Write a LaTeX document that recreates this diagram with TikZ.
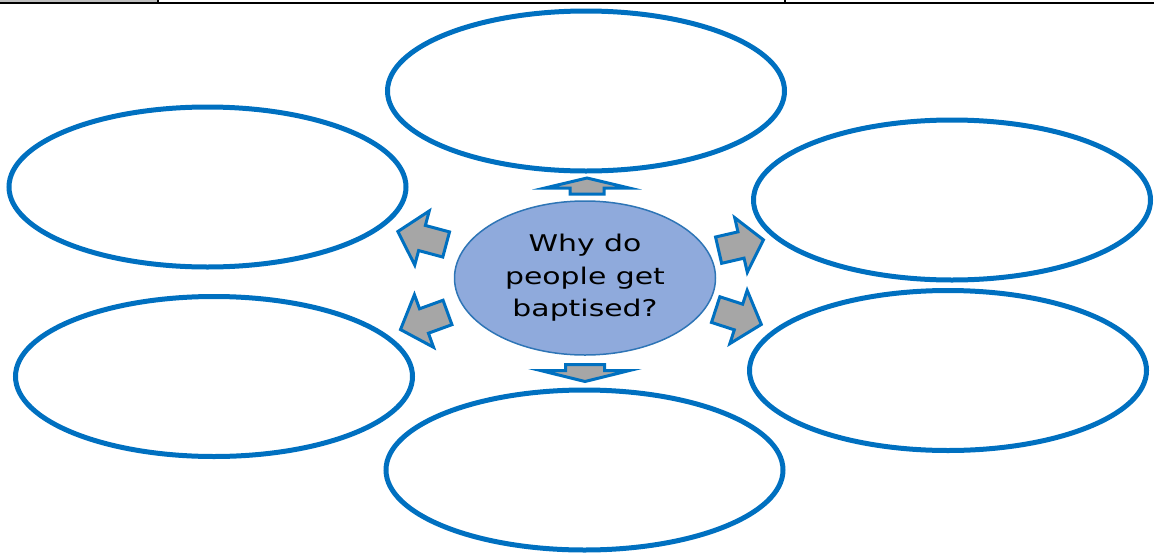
\documentclass[tikz,border=0pt]{standalone}
\usepackage{fontspec}
\newfontfamily\handfont[FakeStretch=1.3]{DejaVu Sans}
\usetikzlibrary{shapes.geometric,positioning}

\definecolor{ringblue}{HTML}{0070C0}
\definecolor{hubfill}{HTML}{8FAADC}
\definecolor{hubline}{HTML}{2E75B6}
\definecolor{arrowgray}{HTML}{A6A6A6}

\begin{document}
\begin{tikzpicture}[
  x=1pt, y=-1pt,
  answer/.style={draw=ringblue, line width=5pt, ellipse, minimum width=397pt, minimum height=160pt, inner sep=0pt},
  hub/.style={draw=hubline, line width=1.5pt, fill=hubfill, ellipse, minimum width=261pt, minimum height=154pt, inner sep=0pt, align=center, font=\handfont\fontsize{23}{32.5}\selectfont},
  blockarrow/.style={draw=ringblue, fill=arrowgray, line width=3pt, line join=miter},
  pics/fatarrow/.style n args={4}{code={
    \path[blockarrow] (-#1/2,-#4/2) -- (#1/2-#2,-#4/2) -- (#1/2-#2,-#3/2) -- (#1/2,0)
      -- (#1/2-#2,#3/2) -- (#1/2-#2,#4/2) -- (-#1/2,#4/2) -- cycle;
  }}
]
\useasboundingbox (0,0) rectangle (1154,552);

% table edge along the top
\fill[gray!50] (0,0) rectangle (158,2.5);
\draw[line width=1.8pt] (0,3.3) -- (1154,3.3);
\draw[line width=1.2pt] (158,0) -- (158,4) (785,0) -- (785,4);

% centre question
\node[hub] (q) at (585,278) {Why do\\people get\\baptised?};

% answer ellipses
\node[answer] (top) at (586,91) {};
\node[answer] (ul) at (207.5,187) {};
\node[answer] (ll) at (214,376.5) {};
\node[answer] (ur) at (952,200) {};
\node[answer] (lr) at (948,370.5) {};
\node[answer] (bot) at (584.5,470) {};

% block arrows out of the centre
\pic[rotate=90] at (587,186) {fatarrow={16}{10}{84}{34}};
\pic[rotate=270] at (585,373) {fatarrow={17}{11}{89}{39}};
\pic[rotate=165] at (422,238) {fatarrow={50}{25}{56}{26}};
\pic[rotate=200] at (424,321) {fatarrow={50}{25}{56}{26}};
\pic[rotate=13] at (741,245) {fatarrow={46}{23}{56}{27}};
\pic[rotate=-18] at (738.5,317) {fatarrow={48}{24}{56}{27}};
\end{tikzpicture}
\end{document}
